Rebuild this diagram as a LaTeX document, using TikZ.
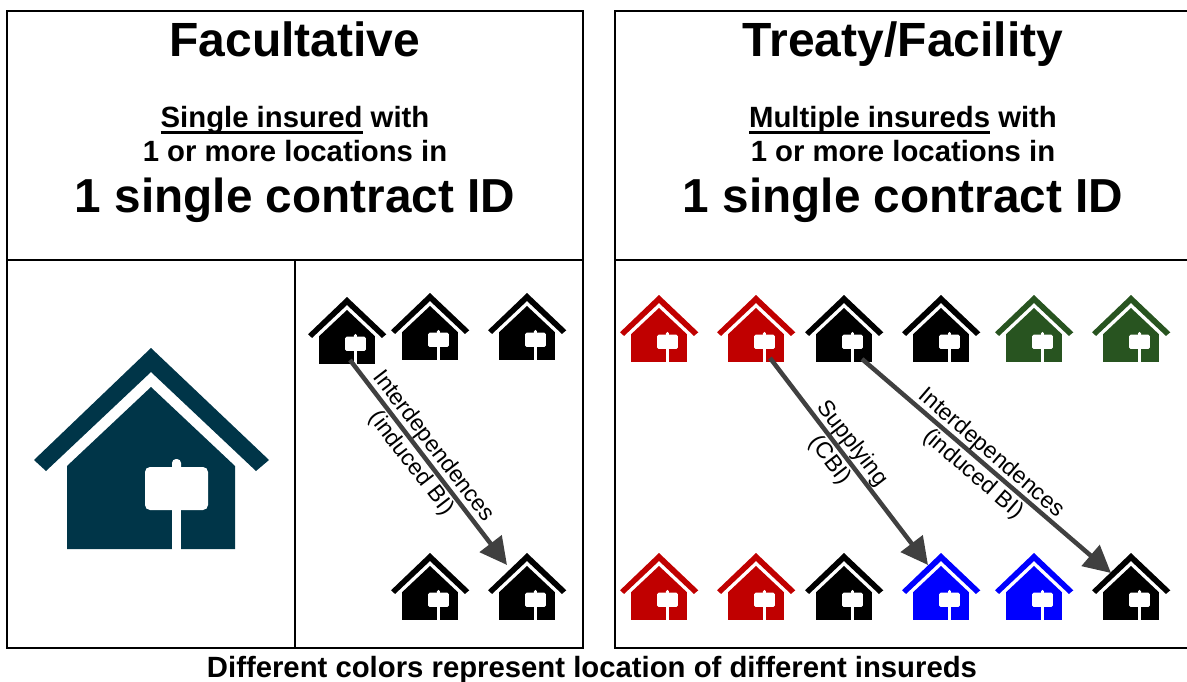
\documentclass[tikz,border=0pt]{standalone}
\usepackage{fontspec}
\setmainfont{Liberation Sans}
\usetikzlibrary{arrows.meta}
\definecolor{navyhouse}{HTML}{003548}
\definecolor{redhouse}{HTML}{C00000}
\definecolor{greenhouse}{HTML}{285420}
\definecolor{bluehouse}{HTML}{0000FF}
\definecolor{arrowgray}{HTML}{404040}
\newsavebox{\ulbox}
\newcommand{\thickul}[1]{\sbox{\ulbox}{#1}\usebox{\ulbox}\llap{\rule[-6.5pt]{\wd\ulbox}{3.2pt}}}
\tikzset{
  panel/.style={draw=black,line width=2pt},
  conn/.style={draw=arrowgray,line width=4.5pt,-{Triangle[length=27pt,width=27pt]}},
  titletext/.style={font=\fontsize{48}{52}\selectfont\bfseries,anchor=base},
  subtext/.style={font=\fontsize{29.3}{34}\selectfont\bfseries,anchor=base},
  idtext/.style={font=\fontsize{47.7}{50}\selectfont\bfseries,anchor=base},
  linktext/.style={font=\fontsize{23}{28}\selectfont,align=center,anchor=center},
  foottext/.style={font=\fontsize{29.3}{32}\selectfont\bfseries,anchor=base}
}
\newcommand{\placehouse}[4]{%
  \begin{scope}[shift={(#1,#2)},x=#3pt,y=-#3pt]
    \fill[#4] (-117,112) -- (0,0) -- (118,112) -- (105,123) -- (0,24) -- (-105,123) -- cycle;
    \fill[#4] (0,39) -- (84,118) -- (84,201) -- (30,201) -- (30,162) -- (21,162) -- (21,201) -- (-84,201) -- (-84,118) -- cycle;
    \fill[white,rounded corners={5pt*#3}] (-6,119) rectangle (57,162);
    \fill[white,rounded corners={4pt*#3}] (21,125) -- (21,111) -- (30,111) -- (30,125) -- cycle;
    \fill[white] (21,150) rectangle (30,201);
  \end{scope}}
\begin{document}
\begin{tikzpicture}[x=1pt,y=-1pt]
\useasboundingbox (0,0) rectangle (1187,682);
% panels
\node[panel,inner sep=0,minimum width=576pt,minimum height=637pt] (leftpanel) at (295,329.5) {};
\coordinate (rtr) at (1187,11);
\coordinate (rtl) at (615,11);
\coordinate (rbl) at (615,648);
\coordinate (rbr) at (1187,648);
\coordinate (rml) at (615,260);
\coordinate (rmr) at (1187,260);
\draw[panel] (rtr) -- (rtl) -- (rbl) -- (rbr);
\draw[panel] (rml) -- (rmr);
\draw[panel] (leftpanel.west |- 0,260) -- (leftpanel.east |- 0,260);
\draw[panel] (295,260) -- (leftpanel.south);
% left texts
\node[titletext] (ftitle) at (295,57) {Facultative};
\node[subtext] (fsub1) at (295,127.5) {\thickul{Single insured} with};
\node[subtext] (fsub2) at (295,161.5) {1 or more locations in};
\node[idtext] (fid) at (295,212) {1 single contract ID};
% right texts
\node[titletext] (ttitle) at (903,57) {Treaty/Facility};
\node[subtext] (tsub1) at (903,127.5) {\thickul{Multiple insureds} with};
\node[subtext] (tsub2) at (903,161.5) {1 or more locations in};
\node[idtext] (tid) at (903,212) {1 single contract ID};
% big house
\placehouse{151}{348}{1}{navyhouse}
% small houses
\foreach \x/\y/\c in {347/297/black,430/293/black,527/293/black,430/553/black,527/553/black,
  659/295/redhouse,756/295/redhouse,844/295/black,941/295/black,1034/295/greenhouse,1131/295/greenhouse,
  659/553/redhouse,756/553/redhouse,844/553/black,941/553/bluehouse,1034/553/bluehouse,1131/553/black}
  {\placehouse{\x}{\y}{0.333}{\c}}
% connector ends
\coordinate (a1) at (350,360);
\coordinate (a2) at (507,565);
\coordinate (b1) at (770,358);
\coordinate (b2) at (928,565);
\coordinate (c1) at (862,359);
\coordinate (c2) at (1111,573);
\draw[conn] (a1) -- (a2);
\draw[conn] (b1) -- (b2);
\draw[conn] (c1) -- (c2);
\node[linktext,rotate=-52.5] (la) at (422,455) {Interdependences\\(induced BI)};
\node[linktext,rotate=-52.5] (lb) at (841,452) {Supplying\\(CBI)};
\node[linktext,rotate=-40.8] (lc) at (982,464) {Interdependences\\(induced BI)};
\node[foottext] (foot) at (592,677) {Different colors represent location of different insureds};
\end{tikzpicture}
\end{document}
